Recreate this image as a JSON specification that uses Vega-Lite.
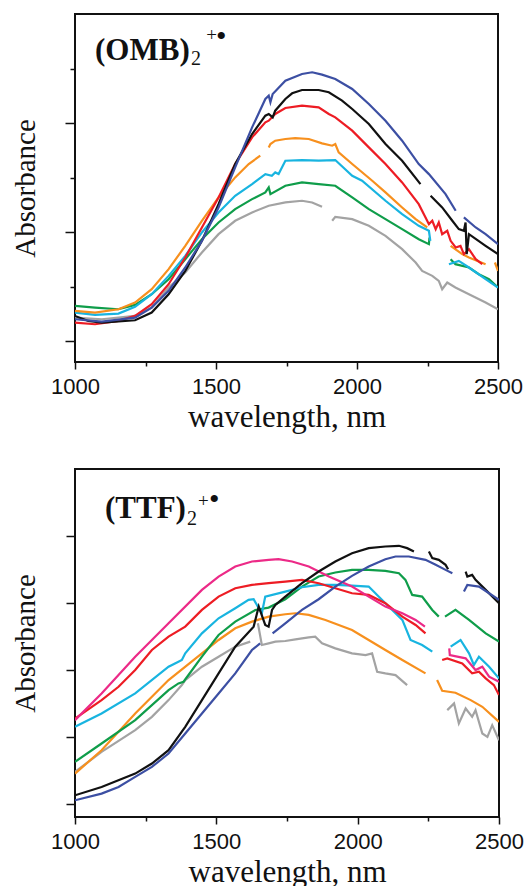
{
 "$schema": "https://vega.github.io/schema/vega-lite/v6.json",
 "background": "white",
 "padding": {"left": 10, "top": 13, "right": 5, "bottom": 0},
 "spacing": 35,
 "resolve": {"scale": {"x": "independent", "y": "independent"}},
 "config": {
  "view": {"stroke": "#111", "strokeWidth": 2},
  "axis": {"domain": false, "grid": false, "tickColor": "#111", "tickWidth": 1.5, "labelFont": "Liberation Sans", "labelFontSize": 22, "labelColor": "#111", "titleFont": "Liberation Serif", "titleFontWeight": "normal", "titleColor": "#111", "labelFlush": false, "labelOverlap": false}
 },
 "datasets": {
  "omb": [
   {"s":"gray","g":"gy1","w":1000,"a":1.429},{"s":"gray","g":"gy1","w":1095,"a":1.399},{"s":"gray","g":"gy1","w":1213,"a":1.46},{"s":"gray","g":"gy1","w":1272,"a":1.613},{"s":"gray","g":"gy1","w":1332,"a":1.982},{"s":"gray","g":"gy1","w":1391,"a":2.258},{"s":"gray","g":"gy1","w":1450,"a":2.626},{"s":"gray","g":"gy1","w":1509,"a":2.963},{"s":"gray","g":"gy1","w":1568,"a":3.209},{"s":"gray","g":"gy1","w":1628,"a":3.362},{"s":"gray","g":"gy1","w":1687,"a":3.485},{"s":"gray","g":"gy1","w":1746,"a":3.546},{"s":"gray","g":"gy1","w":1805,"a":3.577},{"s":"gray","g":"gy1","w":1841,"a":3.546},{"s":"gray","g":"gy1","w":1876,"a":3.466},
   {"s":"gray","g":"gy2","w":1912,"a":3.209},{"s":"gray","g":"gy2","w":1923,"a":3.282},{"s":"gray","g":"gy2","w":1983,"a":3.239},{"s":"gray","g":"gy2","w":2042,"a":3.117},{"s":"gray","g":"gy2","w":2101,"a":2.933},{"s":"gray","g":"gy2","w":2160,"a":2.687},{"s":"gray","g":"gy2","w":2208,"a":2.442},{"s":"gray","g":"gy2","w":2231,"a":2.288},{"s":"gray","g":"gy2","w":2267,"a":2.196},{"s":"gray","g":"gy2","w":2290,"a":2.104},{"s":"gray","g":"gy2","w":2302,"a":1.951},{"s":"gray","g":"gy2","w":2320,"a":2.074},{"s":"gray","g":"gy2","w":2349,"a":1.982},{"s":"gray","g":"gy2","w":2397,"a":1.859},{"s":"gray","g":"gy2","w":2456,"a":1.706},{"s":"gray","g":"gy2","w":2500,"a":1.583},
   {"s":"green","g":"gr1","w":1000,"a":1.644},{"s":"green","g":"gr1","w":1071,"a":1.613},{"s":"green","g":"gr1","w":1154,"a":1.583},{"s":"green","g":"gr1","w":1213,"a":1.663},{"s":"green","g":"gr1","w":1272,"a":1.859},{"s":"green","g":"gr1","w":1332,"a":2.135},{"s":"green","g":"gr1","w":1391,"a":2.503},{"s":"green","g":"gr1","w":1450,"a":2.871},{"s":"green","g":"gr1","w":1509,"a":3.178},{"s":"green","g":"gr1","w":1568,"a":3.423},{"s":"green","g":"gr1","w":1628,"a":3.607},{"s":"green","g":"gr1","w":1675,"a":3.73},{"s":"green","g":"gr1","w":1687,"a":3.822},{"s":"green","g":"gr1","w":1693,"a":3.699},{"s":"green","g":"gr1","w":1746,"a":3.853},{"s":"green","g":"gr1","w":1805,"a":3.914},{"s":"green","g":"gr1","w":1864,"a":3.883},{"s":"green","g":"gr1","w":1923,"a":3.853},{"s":"green","g":"gr1","w":1983,"a":3.638},{"s":"green","g":"gr1","w":2042,"a":3.423},{"s":"green","g":"gr1","w":2101,"a":3.239},{"s":"green","g":"gr1","w":2160,"a":3.055},{"s":"green","g":"gr1","w":2219,"a":2.871},{"s":"green","g":"gr1","w":2255,"a":2.779},{"s":"green","g":"gr1","w":2257,"a":2.902},
   {"s":"green","g":"gr2","w":2332,"a":2.503},{"s":"green","g":"gr2","w":2349,"a":2.411},{"s":"green","g":"gr2","w":2397,"a":2.35},{"s":"green","g":"gr2","w":2432,"a":2.227},{"s":"green","g":"gr2","w":2468,"a":2.135},{"s":"green","g":"gr2","w":2500,"a":1.982},
   {"s":"cyan","g":"cy1","w":1000,"a":1.521},{"s":"cyan","g":"cy1","w":1071,"a":1.479},{"s":"cyan","g":"cy1","w":1154,"a":1.503},{"s":"cyan","g":"cy1","w":1213,"a":1.626},{"s":"cyan","g":"cy1","w":1272,"a":1.859},{"s":"cyan","g":"cy1","w":1332,"a":2.196},{"s":"cyan","g":"cy1","w":1391,"a":2.564},{"s":"cyan","g":"cy1","w":1450,"a":2.994},{"s":"cyan","g":"cy1","w":1509,"a":3.362},{"s":"cyan","g":"cy1","w":1568,"a":3.669},{"s":"cyan","g":"cy1","w":1628,"a":3.883},{"s":"cyan","g":"cy1","w":1675,"a":4.067},{"s":"cyan","g":"cy1","w":1698,"a":4.037},{"s":"cyan","g":"cy1","w":1710,"a":4.098},{"s":"cyan","g":"cy1","w":1722,"a":4.067},{"s":"cyan","g":"cy1","w":1746,"a":4.313},{"s":"cyan","g":"cy1","w":1805,"a":4.325},{"s":"cyan","g":"cy1","w":1864,"a":4.313},{"s":"cyan","g":"cy1","w":1923,"a":4.325},{"s":"cyan","g":"cy1","w":1983,"a":4.037},{"s":"cyan","g":"cy1","w":2018,"a":3.945},{"s":"cyan","g":"cy1","w":2101,"a":3.577},{"s":"cyan","g":"cy1","w":2160,"a":3.331},{"s":"cyan","g":"cy1","w":2219,"a":3.117},{"s":"cyan","g":"cy1","w":2255,"a":3.025},{"s":"cyan","g":"cy1","w":2260,"a":2.84},
   {"s":"cyan","g":"cy2","w":2326,"a":2.411},{"s":"cyan","g":"cy2","w":2361,"a":2.472},{"s":"cyan","g":"cy2","w":2397,"a":2.35},{"s":"cyan","g":"cy2","w":2456,"a":2.135},{"s":"cyan","g":"cy2","w":2500,"a":1.982},
   {"s":"orange","g":"or1","w":1000,"a":1.552},{"s":"orange","g":"or1","w":1071,"a":1.521},{"s":"orange","g":"or1","w":1154,"a":1.583},{"s":"orange","g":"or1","w":1213,"a":1.706},{"s":"orange","g":"or1","w":1272,"a":1.951},{"s":"orange","g":"or1","w":1332,"a":2.319},{"s":"orange","g":"or1","w":1391,"a":2.748},{"s":"orange","g":"or1","w":1450,"a":3.209},{"s":"orange","g":"or1","w":1509,"a":3.638},{"s":"orange","g":"or1","w":1568,"a":4.006},{"s":"orange","g":"or1","w":1616,"a":4.252},{"s":"orange","g":"or1","w":1657,"a":4.405},
   {"s":"orange","g":"or2","w":1687,"a":4.558},{"s":"orange","g":"or2","w":1693,"a":4.62},{"s":"orange","g":"or2","w":1710,"a":4.681},{"s":"orange","g":"or2","w":1746,"a":4.712},{"s":"orange","g":"or2","w":1781,"a":4.73},{"s":"orange","g":"or2","w":1829,"a":4.712},{"s":"orange","g":"or2","w":1876,"a":4.632},{"s":"orange","g":"or2","w":1912,"a":4.589},{"s":"orange","g":"or2","w":1923,"a":4.62},{"s":"orange","g":"or2","w":1935,"a":4.466},{"s":"orange","g":"or2","w":1983,"a":4.252},{"s":"orange","g":"or2","w":2054,"a":3.945},{"s":"orange","g":"or2","w":2101,"a":3.73},{"s":"orange","g":"or2","w":2160,"a":3.454},{"s":"orange","g":"or2","w":2208,"a":3.239},{"s":"orange","g":"or2","w":2249,"a":3.086},
   {"s":"orange","g":"or3","w":2332,"a":2.748},{"s":"orange","g":"or3","w":2373,"a":2.595},{"s":"orange","g":"or3","w":2397,"a":2.534},{"s":"orange","g":"or3","w":2456,"a":2.411},
   {"s":"orange","g":"or4","w":2489,"a":2.442},{"s":"orange","g":"or4","w":2500,"a":2.288},
   {"s":"red","g":"rd1","w":1000,"a":1.337},{"s":"red","g":"rd1","w":1071,"a":1.307},{"s":"red","g":"rd1","w":1154,"a":1.368},{"s":"red","g":"rd1","w":1213,"a":1.46},{"s":"red","g":"rd1","w":1272,"a":1.675},{"s":"red","g":"rd1","w":1332,"a":2.043},{"s":"red","g":"rd1","w":1391,"a":2.534},{"s":"red","g":"rd1","w":1450,"a":3.086},{"s":"red","g":"rd1","w":1509,"a":3.638},{"s":"red","g":"rd1","w":1568,"a":4.252},{"s":"red","g":"rd1","w":1628,"a":4.742},{"s":"red","g":"rd1","w":1675,"a":5.018},{"s":"red","g":"rd1","w":1687,"a":5.049},{"s":"red","g":"rd1","w":1710,"a":5.172},{"s":"red","g":"rd1","w":1746,"a":5.282},{"s":"red","g":"rd1","w":1805,"a":5.325},{"s":"red","g":"rd1","w":1864,"a":5.294},{"s":"red","g":"rd1","w":1900,"a":5.172},{"s":"red","g":"rd1","w":1923,"a":5.11},{"s":"red","g":"rd1","w":1983,"a":4.865},{"s":"red","g":"rd1","w":2042,"a":4.558},{"s":"red","g":"rd1","w":2101,"a":4.252},{"s":"red","g":"rd1","w":2160,"a":3.914},{"s":"red","g":"rd1","w":2219,"a":3.515},{"s":"red","g":"rd1","w":2243,"a":3.27},{"s":"red","g":"rd1","w":2255,"a":3.147},{"s":"red","g":"rd1","w":2267,"a":3.209},{"s":"red","g":"rd1","w":2279,"a":3.055},{"s":"red","g":"rd1","w":2290,"a":3.178},{"s":"red","g":"rd1","w":2302,"a":2.963},{"s":"red","g":"rd1","w":2320,"a":3.025},{"s":"red","g":"rd1","w":2332,"a":2.84},{"s":"red","g":"rd1","w":2350,"a":2.718},{"s":"red","g":"rd1","w":2367,"a":2.748},{"s":"red","g":"rd1","w":2379,"a":2.595},{"s":"red","g":"rd1","w":2397,"a":2.687},{"s":"red","g":"rd1","w":2421,"a":2.503},{"s":"red","g":"rd1","w":2444,"a":2.411},
   {"s":"black","g":"bk1","w":1000,"a":1.46},{"s":"black","g":"bk1","w":1047,"a":1.368},{"s":"black","g":"bk1","w":1095,"a":1.337},{"s":"black","g":"bk1","w":1213,"a":1.38},{"s":"black","g":"bk1","w":1272,"a":1.521},{"s":"black","g":"bk1","w":1332,"a":1.859},{"s":"black","g":"bk1","w":1391,"a":2.288},{"s":"black","g":"bk1","w":1450,"a":2.84},{"s":"black","g":"bk1","w":1509,"a":3.515},{"s":"black","g":"bk1","w":1568,"a":4.252},{"s":"black","g":"bk1","w":1628,"a":4.804},{"s":"black","g":"bk1","w":1675,"a":5.141},{"s":"black","g":"bk1","w":1687,"a":5.172},{"s":"black","g":"bk1","w":1701,"a":5.11},{"s":"black","g":"bk1","w":1710,"a":5.233},{"s":"black","g":"bk1","w":1746,"a":5.448},{"s":"black","g":"bk1","w":1770,"a":5.552},{"s":"black","g":"bk1","w":1805,"a":5.613},{"s":"black","g":"bk1","w":1864,"a":5.613},{"s":"black","g":"bk1","w":1900,"a":5.571},{"s":"black","g":"bk1","w":1947,"a":5.417},{"s":"black","g":"bk1","w":1983,"a":5.264},{"s":"black","g":"bk1","w":2042,"a":4.988},{"s":"black","g":"bk1","w":2101,"a":4.62},{"s":"black","g":"bk1","w":2160,"a":4.313},{"s":"black","g":"bk1","w":2225,"a":3.883},
   {"s":"black","g":"bk2","w":2261,"a":3.669},{"s":"black","g":"bk2","w":2302,"a":3.454},{"s":"black","g":"bk2","w":2338,"a":3.209},{"s":"black","g":"bk2","w":2361,"a":3.055},{"s":"black","g":"bk2","w":2379,"a":3.025},{"s":"black","g":"bk2","w":2385,"a":3.178},{"s":"black","g":"bk2","w":2389,"a":2.595},{"s":"black","g":"bk2","w":2397,"a":2.963},{"s":"black","g":"bk2","w":2456,"a":2.748},{"s":"black","g":"bk2","w":2500,"a":2.595},
   {"s":"blue","g":"bl1","w":1000,"a":1.399},{"s":"blue","g":"bl1","w":1095,"a":1.356},{"s":"blue","g":"bl1","w":1213,"a":1.429},{"s":"blue","g":"bl1","w":1272,"a":1.613},{"s":"blue","g":"bl1","w":1332,"a":1.92},{"s":"blue","g":"bl1","w":1391,"a":2.35},{"s":"blue","g":"bl1","w":1450,"a":2.84},{"s":"blue","g":"bl1","w":1509,"a":3.454},{"s":"blue","g":"bl1","w":1568,"a":4.19},{"s":"blue","g":"bl1","w":1628,"a":4.926},{"s":"blue","g":"bl1","w":1675,"a":5.448},{"s":"blue","g":"bl1","w":1687,"a":5.509},{"s":"blue","g":"bl1","w":1693,"a":5.387},{"s":"blue","g":"bl1","w":1701,"a":5.54},{"s":"blue","g":"bl1","w":1746,"a":5.785},{"s":"blue","g":"bl1","w":1805,"a":5.908},{"s":"blue","g":"bl1","w":1841,"a":5.939},{"s":"blue","g":"bl1","w":1876,"a":5.896},{"s":"blue","g":"bl1","w":1923,"a":5.816},{"s":"blue","g":"bl1","w":1983,"a":5.632},{"s":"blue","g":"bl1","w":2042,"a":5.356},{"s":"blue","g":"bl1","w":2101,"a":5.049},{"s":"blue","g":"bl1","w":2160,"a":4.681},{"s":"blue","g":"bl1","w":2219,"a":4.252},{"s":"blue","g":"bl1","w":2255,"a":4.067},{"s":"blue","g":"bl1","w":2314,"a":3.699},{"s":"blue","g":"bl1","w":2350,"a":3.393},
   {"s":"blue","g":"bl2","w":2379,"a":3.27},{"s":"blue","g":"bl2","w":2421,"a":3.086},{"s":"blue","g":"bl2","w":2456,"a":2.963},{"s":"blue","g":"bl2","w":2500,"a":2.779}
  ],
  "ttf": [
   {"s":"gray","g":"gy1","w":1000,"a":1.475},{"s":"gray","g":"gy1","w":1094,"a":1.775},{"s":"gray","g":"gy1","w":1213,"a":2.1},{"s":"gray","g":"gy1","w":1272,"a":2.3},{"s":"gray","g":"gy1","w":1331,"a":2.55},{"s":"gray","g":"gy1","w":1378,"a":2.775},{"s":"gray","g":"gy1","w":1390,"a":2.85},{"s":"gray","g":"gy1","w":1449,"a":3.05},{"s":"gray","g":"gy1","w":1508,"a":3.2},{"s":"gray","g":"gy1","w":1567,"a":3.35},{"s":"gray","g":"gy1","w":1620,"a":3.425},
   {"s":"gray","g":"gy2","w":1647,"a":3.7},{"s":"gray","g":"gy2","w":1661,"a":3.375},{"s":"gray","g":"gy2","w":1685,"a":3.4},{"s":"gray","g":"gy2","w":1709,"a":3.425},{"s":"gray","g":"gy2","w":1744,"a":3.435},{"s":"gray","g":"gy2","w":1780,"a":3.46},{"s":"gray","g":"gy2","w":1827,"a":3.49},{"s":"gray","g":"gy2","w":1850,"a":3.5},{"s":"gray","g":"gy2","w":1874,"a":3.4},{"s":"gray","g":"gy2","w":1921,"a":3.325},{"s":"gray","g":"gy2","w":1980,"a":3.25},{"s":"gray","g":"gy2","w":2028,"a":3.225},{"s":"gray","g":"gy2","w":2051,"a":3.25},{"s":"gray","g":"gy2","w":2069,"a":2.975},{"s":"gray","g":"gy2","w":2098,"a":2.95},{"s":"gray","g":"gy2","w":2134,"a":2.925},{"s":"gray","g":"gy2","w":2175,"a":2.775},
   {"s":"gray","g":"gy3","w":2317,"a":2.4},{"s":"gray","g":"gy3","w":2341,"a":2.5},{"s":"gray","g":"gy3","w":2358,"a":2.2},{"s":"gray","g":"gy3","w":2382,"a":2.425},{"s":"gray","g":"gy3","w":2405,"a":2.3},{"s":"gray","g":"gy3","w":2417,"a":2.4},{"s":"gray","g":"gy3","w":2441,"a":2.05},{"s":"gray","g":"gy3","w":2459,"a":2.0},{"s":"gray","g":"gy3","w":2476,"a":2.175},{"s":"gray","g":"gy3","w":2500,"a":1.95},
   {"s":"orange","g":"or1","w":1000,"a":1.45},{"s":"orange","g":"or1","w":1094,"a":1.8},{"s":"orange","g":"or1","w":1213,"a":2.35},{"s":"orange","g":"or1","w":1331,"a":2.85},{"s":"orange","g":"or1","w":1449,"a":3.25},{"s":"orange","g":"or1","w":1508,"a":3.45},{"s":"orange","g":"or1","w":1567,"a":3.625},{"s":"orange","g":"or1","w":1626,"a":3.725},{"s":"orange","g":"or1","w":1685,"a":3.8},{"s":"orange","g":"or1","w":1744,"a":3.835},{"s":"orange","g":"or1","w":1780,"a":3.85},{"s":"orange","g":"or1","w":1827,"a":3.825},{"s":"orange","g":"or1","w":1886,"a":3.75},{"s":"orange","g":"or1","w":1980,"a":3.6},{"s":"orange","g":"or1","w":2039,"a":3.45},{"s":"orange","g":"or1","w":2098,"a":3.3},{"s":"orange","g":"or1","w":2158,"a":3.15},{"s":"orange","g":"or1","w":2240,"a":2.95},
   {"s":"orange","g":"or2","w":2281,"a":2.85},{"s":"orange","g":"or2","w":2299,"a":2.69},{"s":"orange","g":"or2","w":2346,"a":2.66},{"s":"orange","g":"or2","w":2400,"a":2.55},{"s":"orange","g":"or2","w":2441,"a":2.45},{"s":"orange","g":"or2","w":2500,"a":2.225},
   {"s":"green","g":"gr1","w":1000,"a":1.625},{"s":"green","g":"gr1","w":1094,"a":1.9},{"s":"green","g":"gr1","w":1213,"a":2.25},{"s":"green","g":"gr1","w":1331,"a":2.7},{"s":"green","g":"gr1","w":1366,"a":2.8},{"s":"green","g":"gr1","w":1384,"a":2.825},{"s":"green","g":"gr1","w":1449,"a":3.2},{"s":"green","g":"gr1","w":1508,"a":3.525},{"s":"green","g":"gr1","w":1567,"a":3.725},{"s":"green","g":"gr1","w":1638,"a":3.9},{"s":"green","g":"gr1","w":1685,"a":3.935},{"s":"green","g":"gr1","w":1744,"a":4.06},{"s":"green","g":"gr1","w":1803,"a":4.25},{"s":"green","g":"gr1","w":1862,"a":4.4},{"s":"green","g":"gr1","w":1921,"a":4.46},{"s":"green","g":"gr1","w":1980,"a":4.5},{"s":"green","g":"gr1","w":2039,"a":4.5},{"s":"green","g":"gr1","w":2098,"a":4.485},{"s":"green","g":"gr1","w":2146,"a":4.45},{"s":"green","g":"gr1","w":2169,"a":4.35},{"s":"green","g":"gr1","w":2193,"a":4.125},{"s":"green","g":"gr1","w":2228,"a":4.1},{"s":"green","g":"gr1","w":2264,"a":3.9},{"s":"green","g":"gr1","w":2287,"a":3.8},
   {"s":"green","g":"gr2","w":2309,"a":3.8},{"s":"green","g":"gr2","w":2346,"a":3.9},{"s":"green","g":"gr2","w":2394,"a":3.75},{"s":"green","g":"gr2","w":2453,"a":3.55},{"s":"green","g":"gr2","w":2500,"a":3.425},
   {"s":"cyan","g":"cy1","w":1000,"a":2.15},{"s":"cyan","g":"cy1","w":1094,"a":2.35},{"s":"cyan","g":"cy1","w":1213,"a":2.65},{"s":"cyan","g":"cy1","w":1331,"a":3.05},{"s":"cyan","g":"cy1","w":1366,"a":3.125},{"s":"cyan","g":"cy1","w":1378,"a":3.15},{"s":"cyan","g":"cy1","w":1390,"a":3.25},{"s":"cyan","g":"cy1","w":1449,"a":3.55},{"s":"cyan","g":"cy1","w":1508,"a":3.775},{"s":"cyan","g":"cy1","w":1567,"a":3.925},{"s":"cyan","g":"cy1","w":1614,"a":4.05},{"s":"cyan","g":"cy1","w":1632,"a":4.06},{"s":"cyan","g":"cy1","w":1650,"a":3.925},{"s":"cyan","g":"cy1","w":1661,"a":3.85},{"s":"cyan","g":"cy1","w":1673,"a":4.1},{"s":"cyan","g":"cy1","w":1744,"a":4.175},{"s":"cyan","g":"cy1","w":1803,"a":4.24},{"s":"cyan","g":"cy1","w":1862,"a":4.275},{"s":"cyan","g":"cy1","w":1921,"a":4.275},{"s":"cyan","g":"cy1","w":1980,"a":4.265},{"s":"cyan","g":"cy1","w":2039,"a":4.25},{"s":"cyan","g":"cy1","w":2098,"a":4.0},{"s":"cyan","g":"cy1","w":2158,"a":3.75},{"s":"cyan","g":"cy1","w":2187,"a":3.45},{"s":"cyan","g":"cy1","w":2228,"a":3.375},{"s":"cyan","g":"cy1","w":2264,"a":3.275},
   {"s":"cyan","g":"cy2","w":2329,"a":3.35},{"s":"cyan","g":"cy2","w":2364,"a":3.45},{"s":"cyan","g":"cy2","w":2394,"a":3.25},{"s":"cyan","g":"cy2","w":2411,"a":3.075},{"s":"cyan","g":"cy2","w":2429,"a":3.2},{"s":"cyan","g":"cy2","w":2465,"a":3.05},{"s":"cyan","g":"cy2","w":2500,"a":2.875},
   {"s":"red","g":"rd1","w":1000,"a":2.275},{"s":"red","g":"rd1","w":1094,"a":2.55},{"s":"red","g":"rd1","w":1154,"a":2.75},{"s":"red","g":"rd1","w":1213,"a":3.0},{"s":"red","g":"rd1","w":1272,"a":3.3},{"s":"red","g":"rd1","w":1331,"a":3.5},{"s":"red","g":"rd1","w":1390,"a":3.65},{"s":"red","g":"rd1","w":1449,"a":3.9},{"s":"red","g":"rd1","w":1508,"a":4.1},{"s":"red","g":"rd1","w":1567,"a":4.225},{"s":"red","g":"rd1","w":1626,"a":4.275},{"s":"red","g":"rd1","w":1685,"a":4.3},{"s":"red","g":"rd1","w":1744,"a":4.325},{"s":"red","g":"rd1","w":1803,"a":4.35},{"s":"red","g":"rd1","w":1862,"a":4.3},{"s":"red","g":"rd1","w":1921,"a":4.225},{"s":"red","g":"rd1","w":1980,"a":4.15},{"s":"red","g":"rd1","w":2039,"a":4.125},{"s":"red","g":"rd1","w":2098,"a":4.0},{"s":"red","g":"rd1","w":2158,"a":3.8},{"s":"red","g":"rd1","w":2205,"a":3.675},{"s":"red","g":"rd1","w":2240,"a":3.55},
   {"s":"red","g":"rd2","w":2299,"a":3.15},{"s":"red","g":"rd2","w":2317,"a":3.175},{"s":"red","g":"rd2","w":2370,"a":3.1},{"s":"red","g":"rd2","w":2405,"a":2.95},{"s":"red","g":"rd2","w":2429,"a":2.975},{"s":"red","g":"rd2","w":2453,"a":2.875},{"s":"red","g":"rd2","w":2482,"a":2.775},{"s":"red","g":"rd2","w":2500,"a":2.625},
   {"s":"magenta","g":"mg1","w":1000,"a":2.25},{"s":"magenta","g":"mg1","w":1094,"a":2.65},{"s":"magenta","g":"mg1","w":1213,"a":3.2},{"s":"magenta","g":"mg1","w":1331,"a":3.7},{"s":"magenta","g":"mg1","w":1449,"a":4.2},{"s":"magenta","g":"mg1","w":1508,"a":4.4},{"s":"magenta","g":"mg1","w":1567,"a":4.55},{"s":"magenta","g":"mg1","w":1626,"a":4.625},{"s":"magenta","g":"mg1","w":1685,"a":4.65},{"s":"magenta","g":"mg1","w":1720,"a":4.66},{"s":"magenta","g":"mg1","w":1768,"a":4.625},{"s":"magenta","g":"mg1","w":1827,"a":4.55},{"s":"magenta","g":"mg1","w":1898,"a":4.4},{"s":"magenta","g":"mg1","w":1980,"a":4.25},{"s":"magenta","g":"mg1","w":2039,"a":4.1},{"s":"magenta","g":"mg1","w":2098,"a":3.95},{"s":"magenta","g":"mg1","w":2158,"a":3.85},{"s":"magenta","g":"mg1","w":2205,"a":3.75},{"s":"magenta","g":"mg1","w":2238,"a":3.65},
   {"s":"magenta","g":"mg2","w":2324,"a":3.325},{"s":"magenta","g":"mg2","w":2326,"a":3.225},{"s":"magenta","g":"mg2","w":2382,"a":3.175},{"s":"magenta","g":"mg2","w":2417,"a":3.0},{"s":"magenta","g":"mg2","w":2441,"a":3.05},{"s":"magenta","g":"mg2","w":2465,"a":2.9},{"s":"magenta","g":"mg2","w":2500,"a":2.825},
   {"s":"black","g":"bk1","w":1000,"a":1.125},{"s":"black","g":"bk1","w":1094,"a":1.25},{"s":"black","g":"bk1","w":1213,"a":1.45},{"s":"black","g":"bk1","w":1272,"a":1.6},{"s":"black","g":"bk1","w":1331,"a":1.8},{"s":"black","g":"bk1","w":1390,"a":2.15},{"s":"black","g":"bk1","w":1449,"a":2.55},{"s":"black","g":"bk1","w":1508,"a":2.95},{"s":"black","g":"bk1","w":1567,"a":3.35},{"s":"black","g":"bk1","w":1632,"a":3.65},{"s":"black","g":"bk1","w":1650,"a":3.95},{"s":"black","g":"bk1","w":1673,"a":3.675},{"s":"black","g":"bk1","w":1685,"a":3.65},{"s":"black","g":"bk1","w":1697,"a":3.9},{"s":"black","g":"bk1","w":1709,"a":3.975},{"s":"black","g":"bk1","w":1744,"a":4.1},{"s":"black","g":"bk1","w":1803,"a":4.3},{"s":"black","g":"bk1","w":1862,"a":4.475},{"s":"black","g":"bk1","w":1921,"a":4.625},{"s":"black","g":"bk1","w":1980,"a":4.75},{"s":"black","g":"bk1","w":2039,"a":4.825},{"s":"black","g":"bk1","w":2098,"a":4.85},{"s":"black","g":"bk1","w":2146,"a":4.86},{"s":"black","g":"bk1","w":2175,"a":4.825},{"s":"black","g":"bk1","w":2199,"a":4.775},
   {"s":"black","g":"bk2","w":2252,"a":4.775},{"s":"black","g":"bk2","w":2264,"a":4.675},{"s":"black","g":"bk2","w":2287,"a":4.65},{"s":"black","g":"bk2","w":2311,"a":4.575},{"s":"black","g":"bk2","w":2320,"a":4.51},
   {"s":"black","g":"bk3","w":2382,"a":4.475},{"s":"black","g":"bk3","w":2388,"a":4.4},{"s":"black","g":"bk3","w":2405,"a":4.425},{"s":"black","g":"bk3","w":2417,"a":4.35},{"s":"black","g":"bk3","w":2453,"a":4.2},{"s":"black","g":"bk3","w":2500,"a":4.0},
   {"s":"blue","g":"bl1","w":1000,"a":1.05},{"s":"blue","g":"bl1","w":1094,"a":1.15},{"s":"blue","g":"bl1","w":1154,"a":1.25},{"s":"blue","g":"bl1","w":1213,"a":1.4},{"s":"blue","g":"bl1","w":1272,"a":1.55},{"s":"blue","g":"bl1","w":1331,"a":1.75},{"s":"blue","g":"bl1","w":1390,"a":2.05},{"s":"blue","g":"bl1","w":1449,"a":2.35},{"s":"blue","g":"bl1","w":1508,"a":2.65},{"s":"blue","g":"bl1","w":1567,"a":2.95},{"s":"blue","g":"bl1","w":1626,"a":3.3},{"s":"blue","g":"bl1","w":1655,"a":3.4},
   {"s":"blue","g":"bl2","w":1699,"a":3.55},{"s":"blue","g":"bl2","w":1744,"a":3.7},{"s":"blue","g":"bl2","w":1803,"a":3.9},{"s":"blue","g":"bl2","w":1862,"a":4.06},{"s":"blue","g":"bl2","w":1921,"a":4.25},{"s":"blue","g":"bl2","w":1980,"a":4.41},{"s":"blue","g":"bl2","w":2039,"a":4.55},{"s":"blue","g":"bl2","w":2098,"a":4.66},{"s":"blue","g":"bl2","w":2134,"a":4.7},{"s":"blue","g":"bl2","w":2181,"a":4.7},{"s":"blue","g":"bl2","w":2240,"a":4.65},{"s":"blue","g":"bl2","w":2276,"a":4.575},{"s":"blue","g":"bl2","w":2311,"a":4.5},{"s":"blue","g":"bl2","w":2335,"a":4.45},
   {"s":"blue","g":"bl3","w":2376,"a":4.175},{"s":"blue","g":"bl3","w":2388,"a":4.275},{"s":"blue","g":"bl3","w":2429,"a":4.25},{"s":"blue","g":"bl3","w":2465,"a":4.15},{"s":"blue","g":"bl3","w":2500,"a":4.05}
  ]
 },
 "vconcat": [
  {
   "width": 423,
   "height": 348,
   "layer": [
    {
     "data": {"name": "omb"},
     "mark": {"type": "line", "strokeWidth": 2.2, "clip": true},
     "encoding": {
      "x": {"field": "w", "type": "quantitative", "scale": {"domain": [1000, 2500], "nice": false, "zero": false},
            "axis": {"title": "wavelength, nm", "values": [1000, 1250, 1500, 1750, 2000, 2250, 2500], "format": "d",
                     "labelExpr": "datum.value % 500 === 0 ? datum.label : ''",
                     "tickSize": {"condition": {"test": "datum.value % 500 === 0", "value": 7}, "value": 4},
                     "labelPadding": 7, "titleFontSize": 31, "titlePadding": 5}},
      "y": {"field": "a", "type": "quantitative", "scale": {"domain": [0.613, 7.01], "nice": false, "zero": false},
            "axis": {"title": "Absorbance", "values": [1, 2, 3, 4, 5, 6], "labels": false,
                     "tickSize": {"condition": {"test": "datum.value % 2 === 1", "value": 10}, "value": 5},
                     "titleFontSize": 29, "titlePadding": 24}},
      "color": {"field": "s", "type": "nominal", "legend": null,
                "scale": {"domain": ["blue", "black", "red", "orange", "cyan", "green", "gray", "magenta"],
                          "range": ["#3c4fa3", "#111111", "#ed1c24", "#f7901e", "#18b4e0", "#0f9d4a", "#a3a3a3", "#ec2a87"]}},
      "detail": {"field": "g", "type": "nominal"}
     }
    },
    {
     "data": {"values": [{"w": 1071, "a": 6.165, "t": "(OMB)"}]},
     "mark": {"type": "text", "font": "Liberation Serif", "fontWeight": "bold", "fontSize": 31, "align": "left", "baseline": "alphabetic", "color": "#111"},
     "encoding": {"x": {"field": "w", "type": "quantitative"}, "y": {"field": "a", "type": "quantitative"}, "text": {"field": "t"}}
    },
    {
     "data": {"values": [{"w": 1411, "a": 6.073, "t": "2"}]},
     "mark": {"type": "text", "font": "Liberation Serif", "fontSize": 20, "align": "left", "baseline": "alphabetic", "color": "#111"},
     "encoding": {"x": {"field": "w", "type": "quantitative"}, "y": {"field": "a", "type": "quantitative"}, "text": {"field": "t"}}
    },
    {
     "data": {"values": [{"w": 1465, "a": 6.514, "t": "+"}]},
     "mark": {"type": "text", "font": "Liberation Serif", "fontSize": 19, "align": "left", "baseline": "alphabetic", "color": "#111"},
     "encoding": {"x": {"field": "w", "type": "quantitative"}, "y": {"field": "a", "type": "quantitative"}, "text": {"field": "t"}}
    },
    {
     "data": {"values": [{"w": 1500, "a": 6.422, "t": "•"}]},
     "mark": {"type": "text", "font": "Liberation Serif", "fontSize": 30, "align": "left", "baseline": "alphabetic", "color": "#111"},
     "encoding": {"x": {"field": "w", "type": "quantitative"}, "y": {"field": "a", "type": "quantitative"}, "text": {"field": "t"}}
    }
   ]
  },
  {
   "width": 424,
   "height": 348,
   "layer": [
    {
     "data": {"name": "ttf"},
     "mark": {"type": "line", "strokeWidth": 2.2, "clip": true},
     "encoding": {
      "x": {"field": "w", "type": "quantitative", "scale": {"domain": [1000, 2500], "nice": false, "zero": false},
            "axis": {"title": "wavelength, nm", "values": [1000, 1250, 1500, 1750, 2000, 2250, 2500], "format": "d",
                     "labelExpr": "datum.value % 500 === 0 ? datum.label : ''",
                     "tickSize": {"condition": {"test": "datum.value % 500 === 0", "value": 7}, "value": 4},
                     "labelPadding": 7, "titleFontSize": 31, "titlePadding": 5}},
      "y": {"field": "a", "type": "quantitative", "scale": {"domain": [0.8, 6.01], "nice": false, "zero": false},
            "axis": {"title": "Absorbance", "values": [1, 2, 3, 4, 5], "labels": false, "tickSize": 9,
                     "titleFontSize": 29, "titlePadding": 25}},
      "color": {"field": "s", "type": "nominal", "legend": null,
                "scale": {"domain": ["blue", "black", "red", "orange", "cyan", "green", "gray", "magenta"],
                          "range": ["#3c4fa3", "#111111", "#ed1c24", "#f7901e", "#18b4e0", "#0f9d4a", "#a3a3a3", "#ec2a87"]}},
      "detail": {"field": "g", "type": "nominal"}
     }
    },
    {
     "data": {"values": [{"w": 1106, "a": 5.283, "t": "(TTF)"}]},
     "mark": {"type": "text", "font": "Liberation Serif", "fontWeight": "bold", "fontSize": 31, "align": "left", "baseline": "alphabetic", "color": "#111"},
     "encoding": {"x": {"field": "w", "type": "quantitative"}, "y": {"field": "a", "type": "quantitative"}, "text": {"field": "t"}}
    },
    {
     "data": {"values": [{"w": 1396, "a": 5.178, "t": "2"}]},
     "mark": {"type": "text", "font": "Liberation Serif", "fontSize": 20, "align": "left", "baseline": "alphabetic", "color": "#111"},
     "encoding": {"x": {"field": "w", "type": "quantitative"}, "y": {"field": "a", "type": "quantitative"}, "text": {"field": "t"}}
    },
    {
     "data": {"values": [{"w": 1435, "a": 5.448, "t": "+"}]},
     "mark": {"type": "text", "font": "Liberation Serif", "fontSize": 19, "align": "left", "baseline": "alphabetic", "color": "#111"},
     "encoding": {"x": {"field": "w", "type": "quantitative"}, "y": {"field": "a", "type": "quantitative"}, "text": {"field": "t"}}
    },
    {
     "data": {"values": [{"w": 1474, "a": 5.418, "t": "•"}]},
     "mark": {"type": "text", "font": "Liberation Serif", "fontSize": 30, "align": "left", "baseline": "alphabetic", "color": "#111"},
     "encoding": {"x": {"field": "w", "type": "quantitative"}, "y": {"field": "a", "type": "quantitative"}, "text": {"field": "t"}}
    }
   ]
  }
 ]
}
